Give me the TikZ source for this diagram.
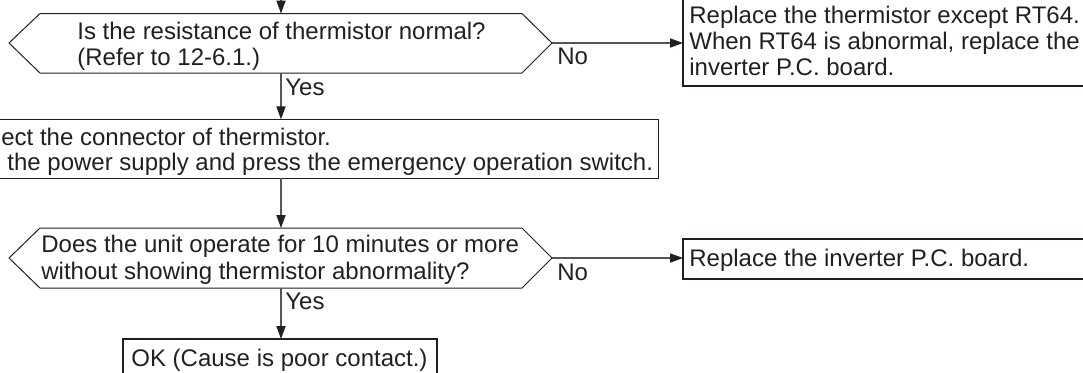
\documentclass[tikz,border=0pt]{standalone}
\usepackage{fontspec}
\setmainfont{Liberation Sans}
\usetikzlibrary{arrows.meta}
\definecolor{ink}{HTML}{231F20}
\definecolor{linegray}{HTML}{555555}
\begin{document}
\begin{tikzpicture}[x=0.5pt,y=-0.5pt,
  txt/.style={anchor=base west, inner sep=0pt, font=\fontsize{12}{14}\selectfont, text=ink},
  thinline/.style={draw=ink, line width=0.5pt},
  termbox/.style={draw=ink, line width=1.1pt},
  flow/.style={draw=linegray, line width=0.55pt, -{Triangle[length=6.5pt,width=4.6pt,color=ink]}}]
\useasboundingbox (0,0) rectangle (1083,372);
\clip (0,0) rectangle (1083,372);

% decision 1
\coordinate (top) at (281,-10);
\coordinate (d1n) at (281,13.5);
\coordinate (d1s) at (281,73);
\coordinate (d1e) at (552,43);
\coordinate (d1w) at (9,43);
\draw[thinline] (d1w) -- (40,13.5) -- (522,13.5) -- (d1e) -- (522,73) -- (40,73) -- cycle;
\node[txt] (q1a) at (77,39.5) {Is the resistance of thermistor normal?};
\node[txt] (q1b) at (77,65.5) {(Refer to 12-6.1.)};

% terminal box 1
\coordinate (r1w) at (683,43);
\draw[termbox] (683,-10) rectangle (1100,86);
\node[txt] (r1a) at (689,23) {Replace the thermistor except RT64.};
\node[txt] (r1b) at (689,49) {When RT64 is abnormal, replace the};
\node[txt] (r1c) at (689,75) {inverter P.C. board.};

% process box
\coordinate (pn) at (281,119.3);
\coordinate (ps) at (281,178.3);
\draw[thinline] (-10,119.3) rectangle (658,178.3);
\node[txt] (p1) at (1,145) {ect the connector of thermistor.};
\node[txt] (p2) at (7,170.5) {the power supply and press the emergency operation switch.};

% decision 2
\coordinate (d2n) at (281,228);
\coordinate (d2s) at (281,288);
\coordinate (d2e) at (552,258);
\coordinate (d2w) at (9,258);
\draw[thinline] (d2w) -- (40,228) -- (522,228) -- (d2e) -- (522,288) -- (40,288) -- cycle;
\node[txt] (q2a) at (41,252.5) {Does the unit operate for 10 minutes or more};
\node[txt] (q2b) at (41,279) {without showing thermistor abnormality?};

% terminal box 2
\coordinate (r2w) at (683,258);
\draw[termbox] (683,239.3) rectangle (1100,279.3);
\node[txt] (r2) at (689,266.5) {Replace the inverter P.C. board.};

% OK box
\coordinate (okn) at (281,339);
\draw[termbox] (123,339) rectangle (437,390);
\node[txt] (ok) at (131,366.5) {OK (Cause is poor contact.)};

% connectors
\draw[flow] (top) -- (d1n);
\draw[flow] (d1e) -- (r1w);
\draw[flow] (d1s) -- (pn);
\draw[flow] (ps) -- (d2n);
\draw[flow] (d2e) -- (r2w);
\draw[flow] (d2s) -- (okn);

% labels
\node[txt] (no1) at (557,64) {No};
\node[txt] (yes1) at (285,95) {Yes};
\node[txt] (no2) at (557,280) {No};
\node[txt] (yes2) at (285,309) {Yes};
\end{tikzpicture}
\end{document}
